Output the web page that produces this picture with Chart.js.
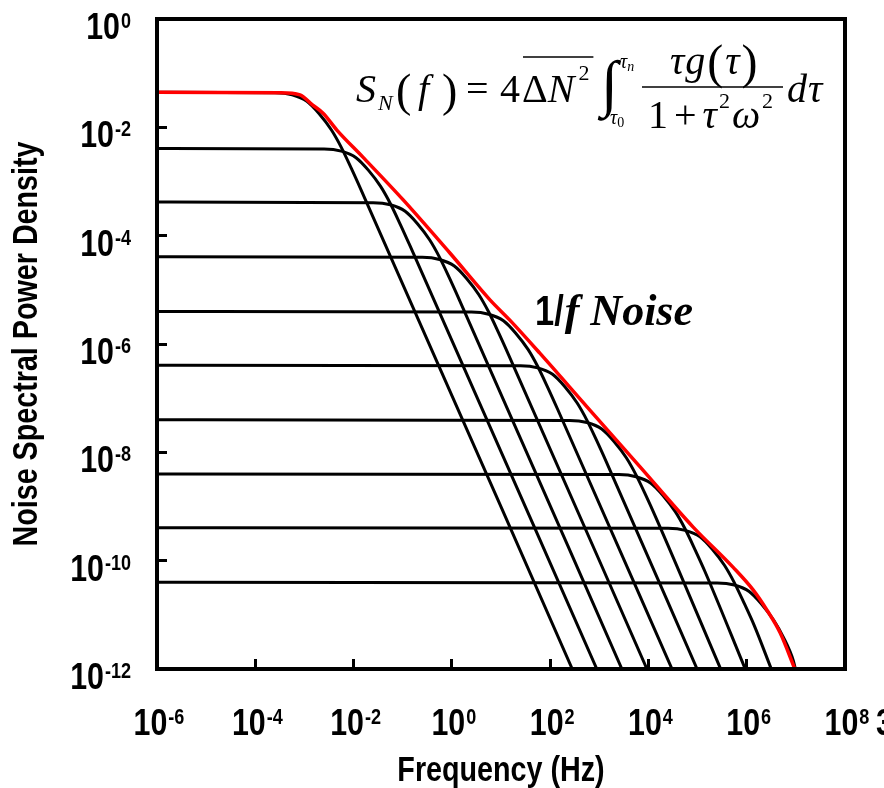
<!DOCTYPE html>
<html>
<head>
<meta charset="utf-8">
<title>1/f noise from trap spectra</title>
<script src="https://cdn.jsdelivr.net/npm/chart.js@4.4.1/dist/chart.umd.min.js"></script>
<style>
  html, body { margin: 0; padding: 0; background: #fff; }
  canvas { display: block; }
</style>
</head>
<body>
<canvas id="noiseChart" width="884" height="788"></canvas>
<script>
// decades (powers of ten) that get a labelled tick
const xTickExps = [-6, -4, -2, 0, 2, 4, 6, 8];
const yTickExps = [0, -2, -4, -6, -8, -10, -12];

// single-trap Lorentzian spectra, [log10 f, log10 S]
const trap1 = [[-6, -1.35], [-3.60, -1.36], [-3.25, -1.40], [-2.95, -1.52], [-2.70, -1.75], [-2.45, -2.05], [-2.25, -2.37], [-2.05, -2.75], [-1.85, -3.15], [2.45, -12]];
const trap2 = [[-6, -2.39], [-2.60, -2.40], [-2.25, -2.44], [-1.95, -2.56], [-1.70, -2.79], [-1.45, -3.09], [-1.25, -3.41], [-1.05, -3.79], [-0.85, -4.19], [2.95, -12]];
const trap3 = [[-6, -3.38], [-1.60, -3.39], [-1.25, -3.43], [-0.95, -3.55], [-0.70, -3.78], [-0.45, -4.08], [-0.25, -4.40], [-0.05, -4.78], [0.15, -5.18], [3.46, -12]];
const trap4 = [[-6, -4.39], [-0.60, -4.40], [-0.25, -4.44], [0.05, -4.56], [0.30, -4.79], [0.55, -5.09], [0.75, -5.41], [0.95, -5.79], [1.15, -6.19], [3.97, -12]];
const trap5 = [[-6, -5.40], [0.40, -5.41], [0.75, -5.45], [1.05, -5.57], [1.30, -5.80], [1.55, -6.10], [1.75, -6.42], [1.95, -6.80], [2.15, -7.20], [4.48, -12]];
const trap6 = [[-6, -6.39], [1.40, -6.40], [1.75, -6.44], [2.05, -6.56], [2.30, -6.79], [2.55, -7.09], [2.75, -7.41], [2.95, -7.79], [3.15, -8.19], [4.99, -12]];
const trap7 = [[-6, -7.40], [2.40, -7.41], [2.75, -7.45], [3.05, -7.57], [3.30, -7.80], [3.55, -8.10], [3.75, -8.42], [3.95, -8.80], [4.15, -9.20], [5.47, -12]];
const trap8 = [[-6, -8.40], [3.40, -8.41], [3.75, -8.45], [4.05, -8.57], [4.30, -8.80], [4.55, -9.10], [4.75, -9.42], [4.95, -9.80], [5.15, -10.20], [5.97, -12]];
const trap9 = [[-6, -9.39], [4.40, -9.40], [4.75, -9.44], [5.05, -9.56], [5.30, -9.79], [5.55, -10.09], [5.75, -10.41], [5.95, -10.79], [6.15, -11.19], [6.50, -12]];
const trap10 = [[-6, -10.40], [5.40, -10.41], [5.75, -10.45], [6.05, -10.57], [6.30, -10.80], [6.55, -11.10], [6.75, -11.42], [6.95, -11.85], [6.99, -12]];

// summed spectrum (1/f envelope)
const envelope = [[-6, -1.35], [-3.50, -1.36], [-3.09, -1.40], [-2.83, -1.59], [-2.62, -1.74], [-2.34, -2.05], [-1.81, -2.55], [-0.99, -3.34], [-0.04, -4.32], [0.78, -5.19], [1.18, -5.56], [1.79, -6.17], [2.75, -7.16], [3.83, -8.27], [4.91, -9.38], [5.72, -10.12], [6.13, -10.54], [6.41, -10.91], [6.68, -11.33], [6.98, -12]];

const traps = [trap1, trap2, trap3, trap4, trap5, trap6, trap7, trap8, trap9, trap10];

const SANS = "'Liberation Sans', Arial, sans-serif";
const SERIF = "'Liberation Serif', 'Times New Roman', serif";
const NARROW = 0.82; // condensed look for the sans labels

function toPoints(pairs) {
  return pairs.map(p => ({ x: Math.pow(10, p[0]), y: Math.pow(10, p[1]) }));
}

let datasets = [{
  data: toPoints(envelope),
  borderColor: "#ff0000",
  borderWidth: 3.5,
  order: 0,
}];
traps.forEach(function (t) {
  datasets.push({
    data: toPoints(t),
    borderColor: "#000000",
    borderWidth: 3,
    order: 1,
  });
});

// sans text squeezed horizontally, left aligned at x
function narrowText(ctx, s, x, y, size) {
  ctx.save();
  ctx.font = "bold " + size + "px " + SANS;
  ctx.translate(x, y);
  ctx.scale(NARROW, 1);
  ctx.fillText(s, 0, 0);
  ctx.restore();
}

function narrowWidth(ctx, s, size) {
  ctx.save();
  ctx.font = "bold " + size + "px " + SANS;
  let w = ctx.measureText(s).width * NARROW;
  ctx.restore();
  return w;
}

// "10" with a raised exponent
function drawPower(ctx, exp, x, y, align) {
  let wb = narrowWidth(ctx, "10", 37);
  let we = narrowWidth(ctx, exp, 22);
  let total = wb + 1 + we;
  let left = align === "right" ? x - total : x - total / 2;
  narrowText(ctx, "10", left, y, 37);
  narrowText(ctx, exp, left + wb + 1, y - 11, 22);
}

function put(ctx, s, x, y, font) {
  ctx.font = font;
  ctx.fillText(s, x, y);
  return x + ctx.measureText(s).width;
}

const it = s => "italic " + s + "px " + SERIF;
const rm = s => s + "px " + SERIF;

const decorations = {
  id: "decorations",
  afterDraw(chart) {
    const ctx = chart.ctx;
    const area = chart.chartArea;
    const xs = chart.scales.x;
    const ys = chart.scales.y;
    ctx.save();
    ctx.fillStyle = "#000";
    ctx.strokeStyle = "#000";
    ctx.textBaseline = "alphabetic";
    ctx.textAlign = "left";

    // frame
    ctx.lineWidth = 4;
    ctx.strokeRect(area.left, area.top, area.right - area.left, area.bottom - area.top);

    // tick labels
    xTickExps.forEach(function (e) {
      drawPower(ctx, String(e), xs.getPixelForValue(Math.pow(10, e)) + 2, 735, "center");
    });
    narrowText(ctx, "3", 876, 735, 37);
    yTickExps.forEach(function (e) {
      drawPower(ctx, String(e), 131, ys.getPixelForValue(Math.pow(10, e)) + 20, "right");
    });

    // axis titles
    let xt = "Frequency (Hz)";
    narrowText(ctx, xt, (area.left + area.right) / 2 - narrowWidth(ctx, xt, 35) / 2, 781, 35);
    let yt = "Noise Spectral Power Density";
    ctx.save();
    ctx.translate(37, (area.top + area.bottom) / 2);
    ctx.rotate(-Math.PI / 2);
    narrowText(ctx, yt, -narrowWidth(ctx, yt, 35) / 2, 0, 35);
    ctx.restore();

    // 1/f label
    let w1 = narrowWidth(ctx, "1/", 42);
    narrowText(ctx, "1/", 535, 325, 42);
    put(ctx, "f Noise", 536 + w1, 325, "italic bold 44px " + SERIF);

    // spectral density formula
    put(ctx, "S", 356, 102, it(40));
    put(ctx, "N", 378, 110, it(22));
    put(ctx, "(", 396, 106, rm(46));
    put(ctx, "f", 418, 102, it(40));
    put(ctx, ")", 442, 106, rm(46));
    put(ctx, "=", 466, 102, rm(40));
    put(ctx, "4", 500, 102, rm(40));
    let x = put(ctx, "\u0394", 522, 102, rm(40));
    x = put(ctx, "N", x, 102, it(40));
    x = put(ctx, "2", x + 4, 80, rm(22));
    ctx.lineWidth = 1.5;
    ctx.beginPath();
    ctx.moveTo(523, 57);
    ctx.lineTo(x + 4, 57);
    ctx.stroke();

    // integral with limits
    put(ctx, "\u222B", 601, 104, it(62));
    x = put(ctx, "\u03C4", 620, 68, it(20));
    put(ctx, "n", x, 71, it(14));
    x = put(ctx, "\u03C4", 610, 124, it(20));
    put(ctx, "0", x, 127, rm(14));

    // fraction
    ctx.beginPath();
    ctx.moveTo(642, 87);
    ctx.lineTo(783, 87);
    ctx.stroke();
    x = put(ctx, "\u03C4", 670, 74, it(40));
    x = put(ctx, "g", x + 1, 74, it(40));
    x = put(ctx, "(", x + 2, 78, rm(48));
    x = put(ctx, "\u03C4", x + 2, 74, it(40));
    put(ctx, ")", x + 2, 78, rm(48));
    x = put(ctx, "1", 648, 128, rm(40));
    x = put(ctx, "+", x + 6, 128, rm(40));
    x = put(ctx, "\u03C4", x + 6, 128, it(40));
    x = put(ctx, "2", x + 2, 108, rm(22));
    x = put(ctx, "\u03C9", x + 2, 128, it(40));
    put(ctx, "2", x + 2, 108, rm(22));
    x = put(ctx, "d", 787, 102, it(40));
    put(ctx, "\u03C4", x + 1, 102, it(40));

    ctx.restore();
  },
};

const ctx = document.getElementById("noiseChart").getContext("2d");
const noiseChart = new Chart(ctx, {
  type: "scatter",
  data: { datasets: datasets },
  options: {
    responsive: false,
    animation: false,
    devicePixelRatio: 1,
    layout: { padding: { top: 19, right: 39, bottom: 0, left: 0 } },
    elements: {
      point: { radius: 0, hoverRadius: 0 },
      line: { cubicInterpolationMode: "monotone", fill: false },
    },
    datasets: { scatter: { showLine: true } },
    plugins: { legend: { display: false }, tooltip: { enabled: false } },
    scales: {
      x: {
        type: "logarithmic",
        min: 1e-6,
        max: 1e8,
        afterBuildTicks(axis) {
          axis.ticks = xTickExps.map(e => ({ value: Math.pow(10, e) }));
        },
        afterFit(axis) { axis.height = 119; },
        ticks: { display: false },
        border: { display: false },
        grid: { display: true, drawOnChartArea: false, drawTicks: true, tickLength: -10, tickWidth: 3, tickColor: "#000" },
      },
      y: {
        type: "logarithmic",
        min: 1e-12,
        max: 1,
        afterBuildTicks(axis) {
          axis.ticks = yTickExps.map(e => ({ value: Math.pow(10, e) }));
        },
        afterFit(axis) { axis.width = 157; },
        ticks: { display: false },
        border: { display: false },
        grid: { display: true, drawOnChartArea: false, drawTicks: true, tickLength: -10, tickWidth: 3, tickColor: "#000" },
      },
    },
  },
  plugins: [decorations],
});
</script>
</body>
</html>
